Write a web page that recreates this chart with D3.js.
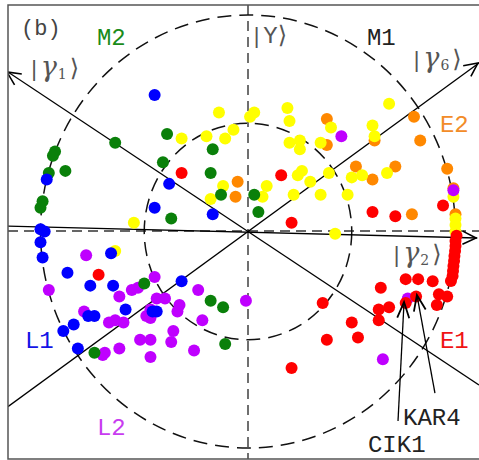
<!DOCTYPE html>
<html>
<head>
<meta charset="utf-8">
<script src="https://cdn.jsdelivr.net/npm/d3@7/dist/d3.min.js"></script>
<style>
  html, body { margin: 0; padding: 0; background: #fff; }
  svg { display: block; }
</style>
</head>
<body>
<svg id="chart" width="479" height="460"></svg>
<script>
// Projections of each gene state onto the (|γ2⟩, |Y⟩) plane, unit circle = full amplitude.
const orangePts = [[-0.05,0.23],[-0.06,0.16],[0.38,0.52],[0.38,0.40],[0.80,0.53],[0.83,0.42],[0.61,0.42],
  [0.52,0.30],[0.60,0.24],[0.71,0.30],[0.96,0.29],[0.79,0.08],[1.00,0.08],[0.99,0.20]];
const yellowPts = [[-0.14,0.55],[-0.32,0.43],[-0.20,0.44],[-0.11,0.43],[-0.07,0.47],[-0.12,0.21],[-0.18,0.15],
  [-0.55,0.04],[0.01,0.53],[0.03,0.55],[0.19,0.57],[0.20,0.51],[0.40,0.48],[0.20,0.41],[0.25,0.42],[0.25,0.38],
  [0.35,0.41],[0.68,0.59],[0.60,0.49],[0.61,0.44],[0.50,0.25],[0.55,0.26],[0.67,0.27],[0.24,0.26],[0.26,0.28],
  [0.30,0.23],[0.39,0.27],[0.09,0.21],[0.07,0.16],[0.22,0.17],[0.35,0.17],[0.48,0.17],[0.42,-0.01],[-0.64,-0.09],
  [0.99,0.16],[1.00,0.06],[1.00,0.03],[1.00,0.00]];
const purplePts = [[0.45,0.44],[0.99,0.19],[0.77,-0.31],[0.65,-0.59],[-0.01,-0.32],[-0.78,-0.11],[-0.96,-0.27],
  [-0.56,-0.27],[-0.53,-0.26],[-0.45,-0.21],[-0.24,-0.27],[-0.62,-0.30],[-0.44,-0.31],[-0.40,-0.31],[-0.33,-0.34],
  [-0.34,-0.37],[-0.79,-0.37],[-0.47,-0.36],[-0.47,-0.40],[-0.49,-0.39],[-0.67,-0.42],[-0.64,-0.41],[-0.60,-0.42],
  [-0.22,-0.41],[-0.36,-0.46],[-0.52,-0.50],[-0.47,-0.50],[-0.37,-0.51],[-0.70,-0.57],[-0.69,-0.56],[-0.62,-0.54],
  [-0.47,-0.58],[-0.26,-0.55]];
const greenPts = [[-0.39,0.45],[-0.64,0.41],[-0.93,0.37],[-0.94,0.35],[-0.17,0.38],[-0.96,0.27],[-0.88,0.28],
  [-0.41,0.32],[-0.18,0.27],[-0.13,0.17],[-0.99,0.14],[-1.00,0.11],[-0.37,0.06],[0.03,0.17],[0.05,0.09],
  [-0.50,-0.24],[-0.18,-0.32],[-0.12,-0.35],[-0.11,-0.52],[-0.74,-0.56]];
const bluePts = [[-0.45,0.63],[-0.97,0.24],[-0.38,0.22],[-0.45,0.11],[-0.17,0.08],[-1.00,0.01],[-0.98,0.00],
  [-1.00,-0.05],[-0.99,-0.12],[-0.66,-0.10],[-0.87,-0.19],[-0.76,-0.25],[-0.65,-0.25],[-0.32,-0.23],[-0.59,-0.36],
  [-0.77,-0.39],[-0.74,-0.39],[-0.46,-0.37],[-0.44,-0.37],[-0.84,-0.43],[-0.89,-0.46],[-0.82,-0.54]];
const redPts = [[-0.32,0.27],[-0.72,-0.20],[0.16,0.26],[0.21,0.04],[0.60,0.09],[0.71,0.07],[0.94,0.12],
  [1.005,-0.02],[1.00,-0.044],[1.00,-0.067],[0.998,-0.09],[0.995,-0.113],[0.993,-0.136],[0.99,-0.159],[0.988,-0.182],
  [0.986,-0.206],[0.978,-0.229],[0.76,-0.22],[0.82,-0.22],[0.89,-0.23],[0.64,-0.26],[0.92,-0.29],[0.96,-0.30],
  [0.91,-0.34],[0.76,-0.33],[0.81,-0.30],[0.68,-0.35],[0.63,-0.36],[0.63,-0.41],[0.50,-0.42],[0.53,-0.49],
  [0.36,-0.33],[0.38,-0.50],[0.21,-0.63]];

const seriesNames = ["E2", "M1", "L2", "M2", "L1", "E1"];
const seriesColors = ["#ff8800", "#ffff00", "#bf00ff", "#0a800a", "#0000ff", "#ff0000"];
const seriesPoints = [orangePts, yellowPts, purplePts, greenPts, bluePts, redPts];

// Reference circles (amplitude 1 and 1/2)
const ringRadii = [1, 0.5];

// Basis directions |γ1⟩, |γ6⟩, |γ2⟩ projected on the plane
const basisSubs = ["1", "6", "2"];
const basisTails = [[1.113,-0.709],[-1.157,-0.809],[-1.157,0.025]];
const basisTips = [[-1.157,0.737],[1.113,0.778],[1.104,-0.030]];

// Highlighted genes
const geneNames = ["CIK1", "KAR4"];
const genePoints = [[0.752,-0.326],[0.814,-0.293]];

const svg = d3.select("#chart");
const x = d3.scaleLinear().domain([-1, 1]).range([40.5, 455.5]);
const y = d3.scaleLinear().domain([-1, 1]).range([448, 15]);

const frame = {x0: 8, y0: 5, x1: 480, y1: 459};
svg.append("defs").append("clipPath").attr("id", "frameClip")
  .append("rect").attr("x", frame.x0).attr("y", frame.y0)
  .attr("width", frame.x1 - frame.x0).attr("height", frame.y1 - frame.y0);

const plot = svg.append("g").attr("clip-path", "url(#frameClip)");

// dashed reference axes
plot.append("line")
  .attr("x1", frame.x0).attr("x2", frame.x1)
  .attr("y1", y(0) - 0.5).attr("y2", y(0) - 0.5)
  .attr("stroke", "#333").attr("stroke-width", 1.4).attr("stroke-dasharray", "10,6");
plot.append("line")
  .attr("x1", x(0)).attr("x2", x(0))
  .attr("y1", frame.y0).attr("y2", frame.y1)
  .attr("stroke", "#333").attr("stroke-width", 1.4).attr("stroke-dasharray", "10,6");

// dashed rings
plot.selectAll("ellipse.ring").data(ringRadii).join("ellipse")
  .attr("class", "ring")
  .attr("cx", x(0)).attr("cy", y(0))
  .attr("rx", r => x(r) - x(0)).attr("ry", r => y(0) - y(r))
  .attr("fill", "none").attr("stroke", "#111").attr("stroke-width", 1.5)
  .attr("stroke-dasharray", "14,8");

// open arrowhead at (tx,ty) pointing away from (fx,fy)
function chevron(tx, ty, fx, fy, len, ang) {
  const a = Math.atan2(fy - ty, fx - tx);
  const p1 = [tx + len * Math.cos(a + ang), ty + len * Math.sin(a + ang)];
  const p2 = [tx + len * Math.cos(a - ang), ty + len * Math.sin(a - ang)];
  return `M${p1[0]},${p1[1]}L${tx},${ty}L${p2[0]},${p2[1]}`;
}
basisTips.forEach((tip, i) => {
  const tail = basisTails[i];
  plot.append("line")
    .attr("x1", x(tail[0])).attr("y1", y(tail[1]))
    .attr("x2", x(tip[0])).attr("y2", y(tip[1]))
    .attr("stroke", "#000").attr("stroke-width", 1.3);
  plot.append("path")
    .attr("d", chevron(x(tip[0]) - 1, y(tip[1]), x(tail[0]), y(tail[1]), 15, 0.45))
    .attr("fill", "none").attr("stroke", "#000").attr("stroke-width", 1.6);
});

// points
seriesPoints.forEach((pts, i) => {
  plot.append("g").attr("class", "series-" + seriesNames[i])
    .selectAll("circle").data(pts).join("circle")
    .attr("cx", d => x(d[0])).attr("cy", d => y(d[1]))
    .attr("r", 6).attr("fill", seriesColors[i]);
});

const mono = "Liberation Mono, DejaVu Sans Mono, monospace";

// gene pointers: label anchor and arrow start, in plane coordinates
const geneLayout = [
  {label: [0.578, -1.018], from: [0.723, -0.875]},
  {label: [0.747, -0.894], from: [0.901, -0.746]}
];
genePoints.forEach((p, i) => {
  const f = geneLayout[i].from;
  plot.append("line")
    .attr("x1", x(f[0])).attr("y1", y(f[1]))
    .attr("x2", x(p[0])).attr("y2", y(p[1]))
    .attr("stroke", "#000").attr("stroke-width", 1.3);
  plot.append("path")
    .attr("d", chevron(x(p[0]), y(p[1]), x(f[0]), y(f[1]), 17, 0.36))
    .attr("fill", "none").attr("stroke", "#000").attr("stroke-width", 1.8);
  plot.append("text")
    .attr("x", x(geneLayout[i].label[0])).attr("y", y(geneLayout[i].label[1]))
    .attr("font-family", mono).attr("font-size", 24)
    .attr("fill", "#222").text(geneNames[i]);
});

// region labels
const regionLabels = [
  {t: "(b)", at: [-1.094, 0.908], c: "#444", s: 22},
  {t: "M2", at: [-0.728, 0.861], c: "#1a8c1a", s: 24},
  {t: "M1", at: [0.573, 0.861], c: "#222", s: 24},
  {t: "E2", at: [0.925, 0.460], c: "#f28c28", s: 24},
  {t: "E1", at: [0.925, -0.538], c: "#f01414", s: 24},
  {t: "L1", at: [-1.075, -0.538], c: "#1414e6", s: 24},
  {t: "L2", at: [-0.728, -0.940], c: "#c83cf0", s: 24}
];
regionLabels.forEach(l => {
  plot.append("text").attr("x", x(l.at[0])).attr("y", y(l.at[1]))
    .attr("font-family", mono).attr("font-size", l.s).attr("fill", l.c).text(l.t);
});

// ket labels
function ket(at, sym, sub) {
  const t = plot.append("text").attr("x", x(at[0])).attr("y", y(at[1]))
    .attr("fill", "#555").attr("font-size", 22);
  t.append("tspan").attr("font-family", mono).text("|");
  if (sub) {
    t.append("tspan").attr("font-family", "DejaVu Serif, serif").attr("font-style", "italic")
      .attr("font-size", 27).text(sym);
    t.append("tspan").attr("font-family", "DejaVu Serif, serif").attr("font-size", 14)
      .attr("dx", 1).attr("dy", 3).text(sub);
    t.append("tspan").attr("font-family", "DejaVu Sans, sans-serif")
      .attr("font-size", 24).attr("dy", -3).attr("dx", 3).text("⟩");
  } else {
    t.append("tspan").attr("font-family", mono).attr("font-size", 24).text(sym);
    t.append("tspan").attr("font-family", "DejaVu Sans, sans-serif")
      .attr("font-size", 24).text("⟩");
  }
}
ket([0.010, 0.871], "Y", null);
ket([-1.063, 0.716], "γ", basisSubs[0]);
ket([0.781, 0.762], "γ", basisSubs[1]);
ket([0.684, -0.139], "γ", basisSubs[2]);

// frame
svg.append("rect")
  .attr("x", frame.x0).attr("y", frame.y0)
  .attr("width", frame.x1 - frame.x0).attr("height", frame.y1 - frame.y0)
  .attr("fill", "none").attr("stroke", "#555").attr("stroke-width", 1.5);
</script>
</body>
</html>
